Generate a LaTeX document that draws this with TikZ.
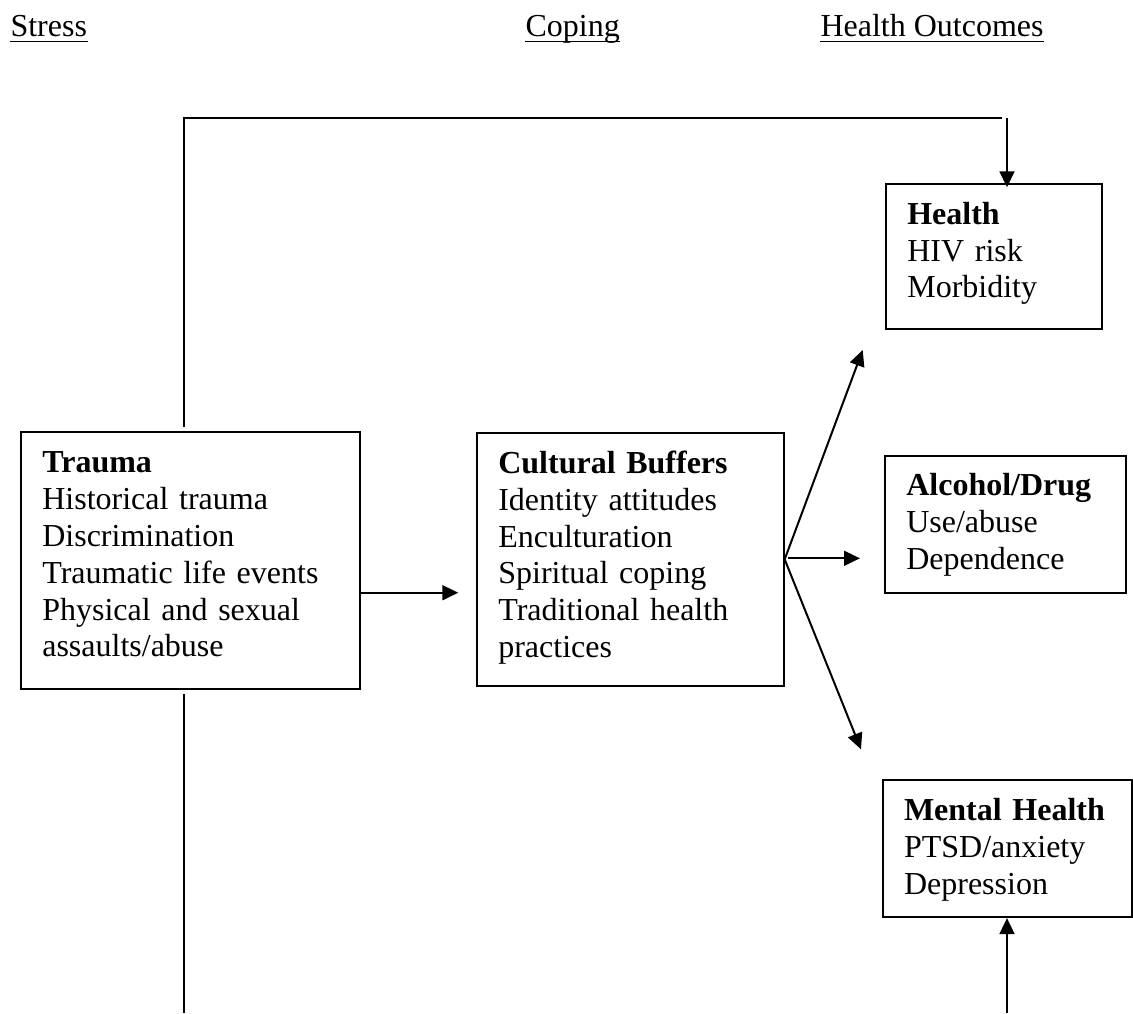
\documentclass[tikz,border=0pt]{standalone}
\usepackage{fontspec}
\setmainfont{Liberation Serif}
\usetikzlibrary{arrows.meta}
\tikzset{
  conn/.style={line width=0.75pt},
  arr/.style={line width=0.75pt,-{Triangle[length=6pt,width=5.6pt]}},
  hdr/.style={anchor=base west,inner sep=0pt,font=\fontsize{12}{13.8}\selectfont},
  uline/.style={line width=0.5pt},
  box/.style n args={4}{draw,line width=0.75pt,anchor=north west,inner ysep=0pt,inner xsep=8pt,
     align=left,font=\fontsize{12}{13.8}\selectfont,
     text width=#1,text height=#3,text depth=#4},
}
\begin{document}
\begin{tikzpicture}[x=0.375pt,y=-0.375pt]
\useasboundingbox (0,0) rectangle (1133,1013);
% headers
\node[hdr] (stress) at (10,36) {Stress};
\node[hdr] (coping) at (525,36) {Coping};
\node[hdr] (outc) at (820,36) {Health Outcomes};
\foreach \n in {stress,coping,outc}
  \draw[uline] ([yshift=-2.1pt]\n.base west) -- ([yshift=-2.1pt]\n.base east);
% boxes
\node[box={111.2pt}{}{15.3pt}{81.1pt}] (trauma) at (20,431)
  {\textbf{Trauma}\\Historical trauma\\Discrimination\\Traumatic life events\\Physical and sexual\\assaults/abuse};
\node[box={99pt}{}{15.3pt}{79.7pt}] (buffers) at (476,431.7)
  {\textbf{Cultural Buffers}\\Identity attitudes\\Enculturation\\Spiritual coping\\Traditional health\\practices};
\node[box={64.9pt}{}{15pt}{39.15pt}] (health) at (885,183.3)
  {\textbf{Health}\\HIV risk\\Morbidity};
\node[box={74.4pt}{}{14.8pt}{36.6pt}] (alcohol) at (884,455)
  {\textbf{Alcohol/Drug}\\Use/abuse\\Dependence};
\node[box={77.5pt}{}{15.2pt}{36.1pt}] (mental) at (881.7,779.3)
  {\textbf{Mental Health}\\PTSD/anxiety\\Depression};
% coordinates
\coordinate (tv) at (184,426.7);
\coordinate (tl) at (184,118);
\coordinate (tr) at (1002,118);
\coordinate (ta) at (1007,118);
\coordinate (bl1) at (184,694);
\coordinate (bl2) at (184,1013);
\coordinate (br) at (1007,1013);
\coordinate (a1) at (458.3,592.7);
\coordinate (hs) at (788.3,558.3);
\coordinate (hu) at (862.7,350);
\coordinate (hm) at (860,558.3);
\coordinate (hd) at (861,749.3);
% connectors
\draw[conn] (tv) -- (tl) -- (tr);
\draw[arr] (ta) -- ([yshift=-1.5pt]ta |- health.north);
\draw[conn] (bl1) -- (bl2);
\draw[arr] (br) -- (br |- mental.south);
\draw[arr] (trauma.east |- a1) -- (a1);
\draw[arr] (buffers.east) -- (hu);
\draw[arr] (hs) -- (hm);
\draw[arr] (buffers.east) -- (hd);
\end{tikzpicture}
\end{document}
